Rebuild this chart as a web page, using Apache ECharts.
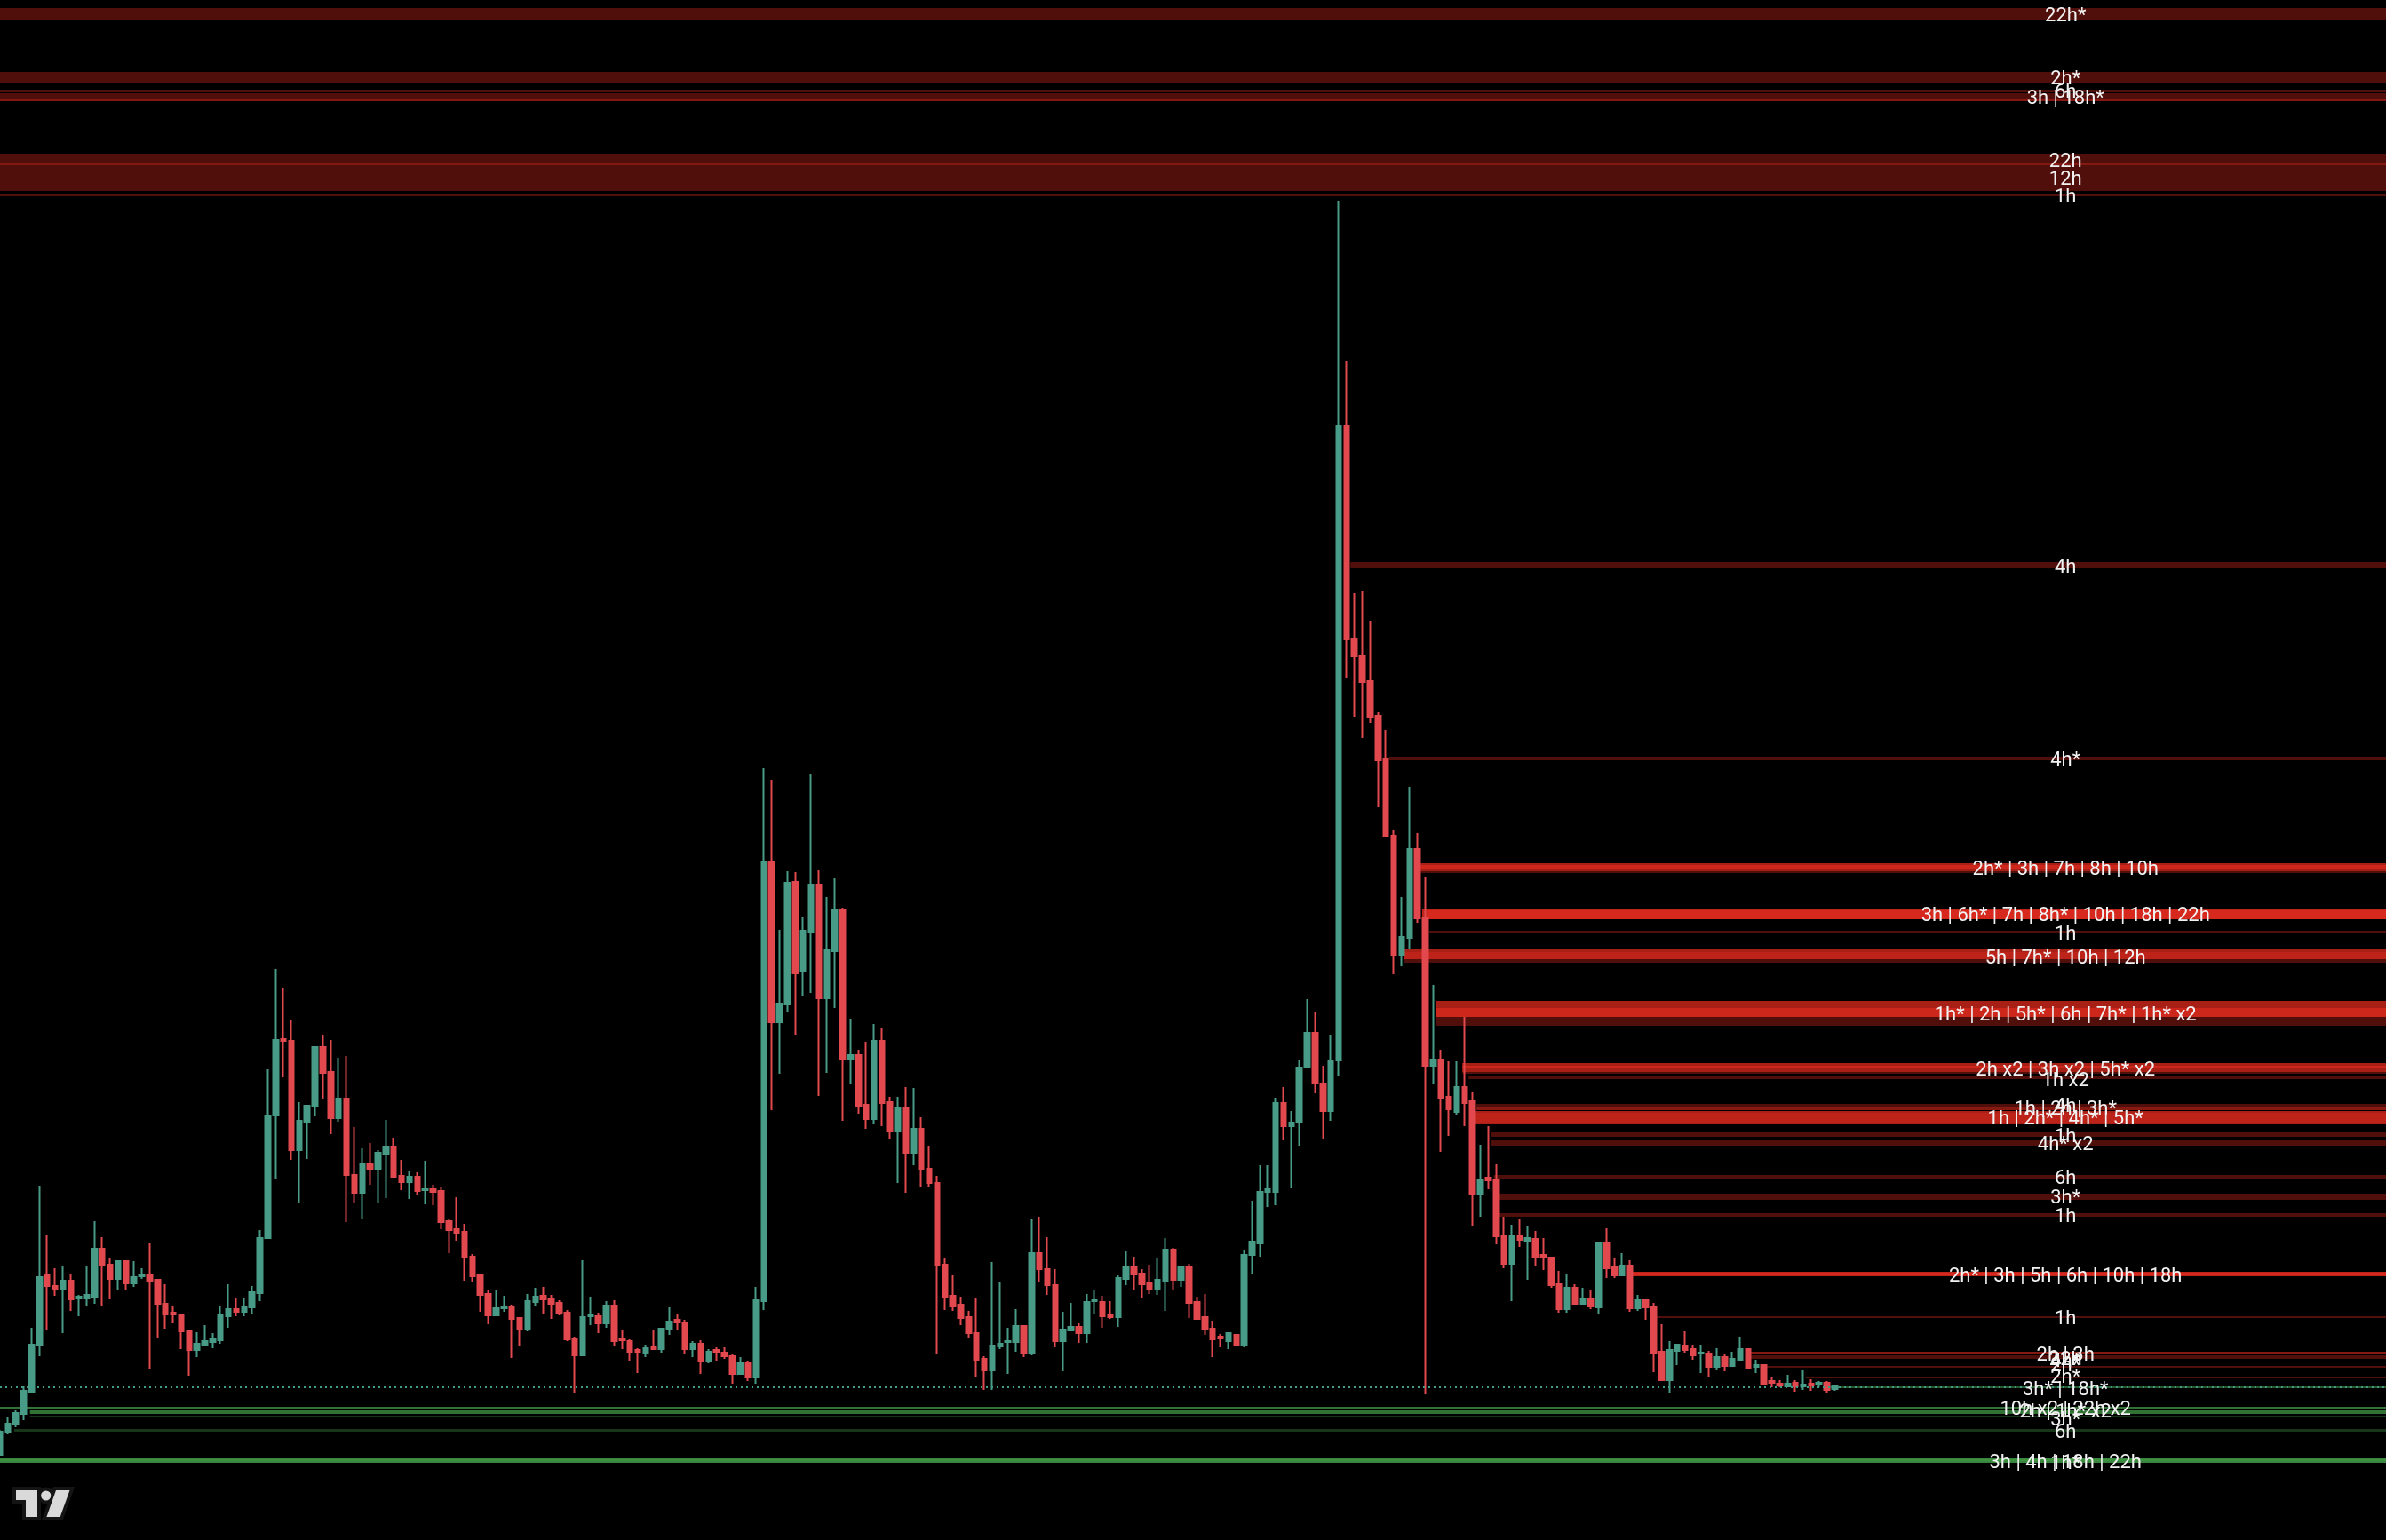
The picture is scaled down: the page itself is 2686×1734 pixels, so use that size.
<!DOCTYPE html>
<html>
<head>
<meta charset="utf-8">
<script src="https://cdn.jsdelivr.net/npm/echarts@6.0.0/dist/echarts.min.js"></script>
<style>
html,body{margin:0;padding:0;background:#000;}
#chart{width:2686px;height:1734px;}
</style>
</head>
<body>
<div id="chart"></div>
<script>
// ---- candles: [open, close, low, high] (price units) ----
const candles = [
[96,122,96,124],[121,131,119,138],[130,143,127,146],[142,168,135,173],[167,220,166,239],
[219,296,207,399],[298,286,237,343],[286,283,275,306],[283,292,233,308],[292,271,258,300],
[272,274,252,276],[272,276,264,309],[274,328,266,359],[328,310,264,341],[310,294,271,317],
[294,314,281,315],[314,289,281,315],[289,296,285,314],[297,298,294,306],[298,292,193,334],
[293,266,228,294],[266,254,238,288],[256,254,244,263],[253,235,215,254],[235,214,185,237],
[214,221,206,234],[220,224,219,242],[223,226,216,233],[225,253,221,264],[252,260,239,288],
[260,257,252,273],[257,263,252,272],[262,279,254,286],[278,340,269,349],[340,478,340,530],
[478,563,407,643],[564,562,521,622],[562,439,428,586],[439,472,380,493],[471,489,429,490],
[488,555,477,555],[555,526,497,569],[527,475,457,563],[475,497,471,543],[497,411,358,545],
[411,391,380,465],[391,424,362,441],[424,418,400,447],[418,436,379,439],[435,443,385,473],
[443,409,409,453],[410,403,394,428],[403,409,384,415],[409,393,389,414],[394,395,378,427],
[395,392,377,400],[393,358,350,398],[359,349,323,361],[350,346,337,386],[347,318,292,356],
[319,297,290,322],[298,276,257,300],[277,253,243,281],[253,261,253,282],[261,263,257,275],
[262,249,205,265],[250,237,218,251],[237,269,235,277],[268,274,264,284],[275,271,254,285],
[272,266,249,276],[267,256,253,270],[256,226,224,259],[227,208,165,229],[208,251,207,315],
[252,253,242,274],[252,244,233,256],[244,264,239,269],[264,224,218,270],[227,225,215,237],
[224,211,202,226],[214,211,188,216],[210,216,206,220],[217,215,214,236],[215,238,211,239],
[237,246,231,262],[248,245,236,254],[245,215,209,248],[215,221,206,224],[221,201,187,225],
[201,212,199,215],[214,211,201,217],[211,207,204,217],[207,187,176,209],[187,199,187,206],
[199,183,179,201],[183,270,176,285],[269,763,259,869],[763,583,484,856],[583,604,525,687],
[603,740,595,753],[741,638,569,752],[640,686,613,701],[685,738,616,862],[738,610,500,754],
[610,664,526,724],[663,709,599,745],[709,542,472,712],[542,546,513,587],[546,489,480,552],
[490,474,463,561],[474,562,468,581],[562,492,466,577],[493,460,451,499],[460,486,402,499],
[486,436,391,510],[436,463,422,509],[463,418,398,476],[418,402,397,444],[402,309,209,410],
[310,273,259,317],[275,263,258,298],[265,250,242,274],[251,233,228,258],[233,203,184,273],
[204,191,169,207],[191,219,169,313],[218,221,215,290],[223,224,187,239],[223,241,212,260],
[241,210,206,242],[210,323,208,361],[323,305,290,364],[305,287,276,341],[287,224,217,305],
[224,237,190,257],[236,240,236,267],[240,233,222,244],[233,268,222,277],[269,270,254,281],
[268,252,239,275],[253,251,249,269],[251,295,240,298],[294,308,287,325],[308,299,282,319],
[300,288,272,305],[289,283,277,310],[283,293,276,318],[292,327,258,340],[327,293,282,329],
[293,307,285,307],[307,267,250,311],[268,249,248,274],[251,237,231,277],[238,226,206,247],
[229,227,217,232],[224,233,215,234],[231,220,219,232],[220,321,217,326],[321,336,300,382],
[334,392,319,422],[392,395,375,422],[392,492,377,498],[492,466,450,510],[466,470,396,483],
[470,532,444,541],[532,571,532,609],[571,514,503,594],[514,483,451,534],[483,540,472,569],
[540,1254,522,1508],[1254,1014,971,1327],[1015,995,927,1066],[995,966,903,1069],[967,927,920,1035],
[928,878,825,932],[879,793,793,912],[793,659,637,799],[659,679,646,724],[678,778,665,848],
[778,700,695,796],[700,534,164,746],[534,541,513,625],[541,497,437,552],[499,485,455,539],
[482,510,479,539],[510,492,466,589],[494,390,354,504],[390,406,364,445],[408,405,395,466],
[406,342,333,423],[342,311,306,364],[311,342,269,355],[342,338,330,361],[337,340,293,354],
[339,319,309,348],[321,318,304,340],[318,287,284,319],[288,260,256,303],[260,284,256,299],
[284,266,265,288],[266,271,266,284],[271,263,260,282],[262,334,254,336],[334,306,295,351],
[307,298,295,317],[298,309,298,323],[309,261,257,315],[261,270,258,276],[270,262,248,271],
[262,210,189,267],[212,180,179,243],[180,214,166,224],[213,220,197,221],[219,214,210,235],
[215,208,203,220],[210,211,188,220],[210,195,183,213],[195,206,191,216],[206,196,190,209],
[196,204,196,212],[203,215,202,229],[215,193,192,216],[195,197,188,203],[197,176,175,197],
[179,177,172,184],[176,174,172,180],[173,176,172,186],[177,173,167,180],[173,175,169,191],
[176,174,168,181],[175,177,172,179],[177,169,165,179],[170,173,168,174]
];

// last traded price (dotted price line)
const lastPrice = 172;

// ---- resistance zones: [top, bottom, stacked layers, start candle] ----
const resistanceBands = [
[1725,1711,1,-1],[1653,1640,1,-1],[1633,1630,1,-1],[1629,1620,1,-1],[1623,1620,1,-1],
[1561,1548,1,-1],[1550,1519,1,-1],[1516,1513,1,-1],
[1101,1094,1,171.5],
[882,878,1,176.4],
[762,751,1,180.4],[762,753,2,180.4],[760,755,2,180.4],
[711,699,4,180.6],[709,699,2,181.2],
[686,683,1,181.5],
[665,650,1,178.3],[665,654,2,178.3],[662,654,1,178.3],
[607,579,1,182.4],[607,589,2,182.4],[599,589,2,182.4],
[537,525,1,185.7],[537,527,2,185.7],[534,531,2,185.7],
[522,519,1,186.5],
[491,488,1,187.5],
[488,484,2,187.5],
[483,468,3,186.9],[481,470,1,186.9],
[459,454,1,189.4],
[450,444,1,189.4],
[411,406,1,189.7],
[390,383,1,190.4],
[368,364,1,190.4],
[302,297,4,207.0],[301,298,2,207.0],
[252,250,1,210.4],
[212,209,2,221.9],
[208,204,1,221.9],
[196,194,1,223.9],
[184,182,1,229.3]
];

// ---- support zones: [top, bottom, stacked layers, start candle] ----
const supportBands = [
[173,171,2,232.4],
[150,147,3,-1],
[146,142,3,3.8],
[140,138,1,3.8],
[125,122,1,1.8],
[92,87,4,-1],
[91,89,1,-1]
];

// ---- zone labels: [text, price] ----
const resistanceLabels = [
['22h*',1718],['2h*',1647],['6h',1632],['3h | 18h*',1625],['22h',1554],['12h',1534],['1h',1514],
['4h',1097],['4h*',880],
['2h* | 3h | 7h | 8h | 10h',757],
['3h | 6h* | 7h | 8h* | 10h | 18h | 22h',705],
['1h',684],
['5h | 7h* | 10h | 12h',657],
['1h* | 2h | 5h* | 6h | 7h* | 1h* x2',593],
['2h x2 | 3h x2 | 5h* x2',531],
['1h x2',519],
['4h',490],
['1h | 2h | 3h*',487],
['1h | 2h* | 4h* | 5h*',476],
['1h',456],
['4h* x2',447],
['6h',409],
['3h*',387],
['1h',366],
['2h* | 3h | 5h | 6h | 10h | 18h',299],
['1h',251],
['2h | 3h',210],
['22h',205],
['4h*',203],
['2h*',198],
['2h*',185]
];
const supportLabels = [
['3h* | 18h*',171],
['10h x2 | 22h x2',149],
['2h | 1h* x2',146],
['3h*',137],
['6h',123],
['3h | 4h | 18h | 22h',89],
['1h*',88]
];

// ---- layout constants ----
const X_MAX = 303;          // candle slots across the full width
const LABEL_SLOT = 262.3;   // slot where zone labels are centred
const Y_MAX = 1734;

const UP = '#489b86', DOWN = '#e2494f';
const RED_RGB = '232,44,32', RED_A = 0.35;
const GREEN_RGB = '76,175,80', GREEN_A = 0.3;

function bandRenderer(rgb, alpha) {
  return function (params, api) {
    const top = api.value(0), bottom = api.value(1), n = api.value(2), start = api.value(3);
    const cs = params.coordSys;
    const pTop = api.coord([Math.max(start, 0), top]);
    const pBot = api.coord([Math.max(start, 0), bottom]);
    const x0 = start < 0 ? cs.x : pTop[0];
    const a = 1 - Math.pow(1 - alpha, n);
    return {
      type: 'rect',
      shape: { x: x0, y: pTop[1], width: cs.x + cs.width - x0, height: pBot[1] - pTop[1] },
      style: { fill: 'rgba(' + rgb + ',' + a.toFixed(3) + ')' }
    };
  };
}
function labelRenderer(list) {
  return function (params, api) {
    const p = api.coord([api.value(0), api.value(1)]);
    return {
      type: 'text',
      x: p[0], y: p[1] + 2,
      style: {
        text: list[params.dataIndex][0],
        fill: '#f2f2f2',
        fontSize: 22,
        fontFamily: 'Roboto',
        align: 'center',
        verticalAlign: 'middle'
      }
    };
  };
}

const chart = echarts.init(document.getElementById('chart'));
chart.setOption({
  backgroundColor: '#000000',
  animation: false,
  grid: { left: 0, right: 0, top: 0, bottom: 0 },
  xAxis: { type: 'value', min: 0, max: X_MAX, show: false },
  yAxis: { type: 'value', min: 0, max: Y_MAX, show: false },
  graphic: [
    { type: 'polygon', z: 100, shape: { points: [[18,1678],[42,1678],[42,1708],[29,1708],[29,1689],[18,1689]] }, style: { fill: '#141414', stroke: '#141414', lineWidth: 8 } },
    { type: 'circle', z: 100, shape: { cx: 51.7, cy: 1684, r: 5.6 }, style: { fill: '#141414', stroke: '#141414', lineWidth: 8 } },
    { type: 'polygon', z: 100, shape: { points: [[63,1678],[78.5,1678],[67.7,1708],[52.4,1708]] }, style: { fill: '#141414', stroke: '#141414', lineWidth: 8 } },
    { type: 'polygon', z: 101, shape: { points: [[18,1678],[42,1678],[42,1708],[29,1708],[29,1689],[18,1689]] }, style: { fill: '#d9d9d9' } },
    { type: 'circle', z: 101, shape: { cx: 51.7, cy: 1684, r: 5.6 }, style: { fill: '#d9d9d9' } },
    { type: 'polygon', z: 101, shape: { points: [[63,1678],[78.5,1678],[67.7,1708],[52.4,1708]] }, style: { fill: '#d9d9d9' } }
  ],
  series: [
    {
      type: 'custom', name: 'resistance', z: 1, clip: true, silent: true,
      renderItem: bandRenderer(RED_RGB, RED_A),
      encode: { x: 3, y: 0 },
      data: resistanceBands
    },
    {
      type: 'custom', name: 'support', z: 1, clip: true, silent: true,
      renderItem: bandRenderer(GREEN_RGB, GREEN_A),
      encode: { x: 3, y: 0 },
      data: supportBands
    },
    {
      type: 'candlestick', name: 'price', z: 3,
      barWidth: 6,
      encode: { x: 0, y: [1, 2, 3, 4] },
      data: candles.map((c, i) => [i, c[0], c[1], c[2], c[3]]),
      itemStyle: { color: UP, color0: DOWN, borderColor: UP, borderColor0: DOWN, borderWidth: 2 },
      markLine: {
        silent: true, symbol: ['none', 'none'], label: { show: false },
        lineStyle: { color: '#3f9d89', width: 2, type: [2, 4] },
        data: [{ yAxis: lastPrice }]
      }
    },
    {
      type: 'custom', name: 'resistanceLabels', z: 10, silent: true,
      renderItem: labelRenderer(resistanceLabels),
      encode: { x: 0, y: 1 },
      data: resistanceLabels.map(l => [LABEL_SLOT, l[1]])
    },
    {
      type: 'custom', name: 'supportLabels', z: 10, silent: true,
      renderItem: labelRenderer(supportLabels),
      encode: { x: 0, y: 1 },
      data: supportLabels.map(l => [LABEL_SLOT, l[1]])
    }
  ]
});
</script>
</body>
</html>
